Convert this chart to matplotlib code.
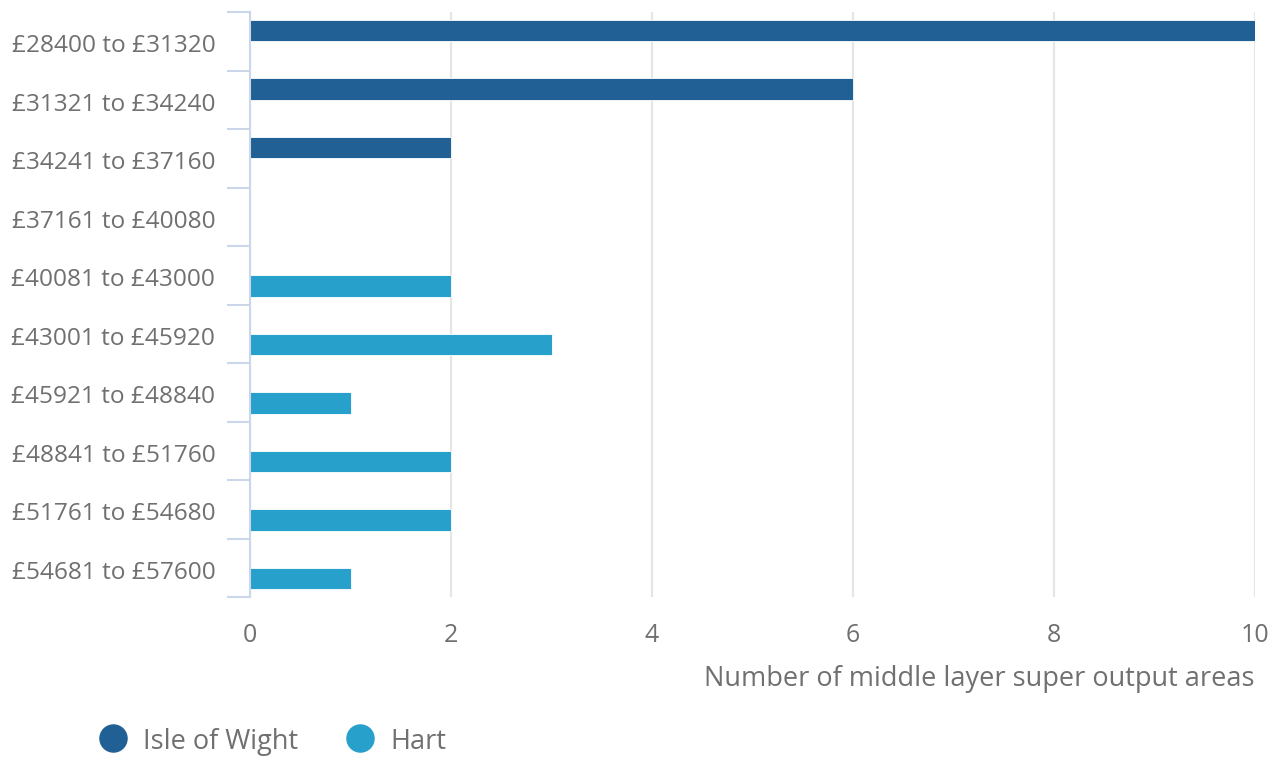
import numpy as np
import matplotlib
matplotlib.use("Agg")
import matplotlib.pyplot as plt
import matplotlib.transforms as mtransforms
from matplotlib.lines import Line2D

# data
bands = ["£28400 to £31320", "£31321 to £34240", "£34241 to £37160",
         "£37161 to £40080", "£40081 to £43000", "£43001 to £45920",
         "£45921 to £48840", "£48841 to £51760", "£51761 to £54680",
         "£54681 to £57600"]
isle_of_wight = [10, 6, 2, 0, 0, 0, 0, 0, 0, 0]
hart = [0, 0, 0, 0, 2, 3, 1, 2, 2, 1]
series_names = ["Isle of Wight", "Hart"]
x_ticks = [0, 2, 4, 6, 8, 10]

dark_blue = "#206095"
light_blue = "#27a0cc"
text_col = "#707070"
axis_col = "#ccd6eb"
grid_col = "#e6e6e6"

plt.rcParams['font.family'] = ['Open Sans', 'DejaVu Sans']

fig = plt.figure(figsize=(12.79, 7.58), dpi=100)
ax = fig.add_axes([250 / 1279, 1 - 597 / 758, 1005 / 1279, 585 / 758])

y = np.arange(len(bands))
h = 0.37
ax.barh(y - h / 2, isle_of_wight, height=h, color=dark_blue,
        edgecolor="white", linewidth=0.6, zorder=3)
ax.barh(y + h / 2, hart, height=h, color=light_blue,
        edgecolor="white", linewidth=0.6, zorder=3)

ax.set_xlim(0, 10)
ax.set_ylim(len(bands) - 0.5, -0.5)

ax.set_xticks(x_ticks)
ax.set_xticklabels([str(t) for t in x_ticks])
ax.xaxis.grid(True, color=grid_col, linewidth=1.6, zorder=0)
ax.tick_params(axis="x", length=0, pad=19, labelsize=18, labelcolor=text_col)

ax.set_yticks(y)
ax.set_yticklabels(bands)
ax.tick_params(axis="y", which="major", length=0, pad=25, labelsize=17.6,
               labelcolor=text_col)
ax.set_yticks(np.arange(len(bands) + 1) - 0.5, minor=True)
ax.tick_params(axis="y", which="minor", length=16.5, width=1.5, color=axis_col)

# nudge the band labels down a touch
shift = mtransforms.ScaledTranslation(0, -2 / 100, fig.dpi_scale_trans)
for lbl in ax.get_yticklabels():
    lbl.set_transform(lbl.get_transform() + shift)

for s in ["top", "right", "bottom"]:
    ax.spines[s].set_visible(False)
ax.spines["left"].set_color(axis_col)
ax.spines["left"].set_linewidth(1.5)
ax.spines["left"].set_zorder(4)

fig.text(1255 / 1279, 1 - 679 / 758, "Number of middle layer super output areas",
         ha="right", va="center", fontsize=19.5, color=text_col)

# legend: circle markers with labels, placed like the reference
legend_x = [113, 360]
for name, col, lx in zip(series_names, [dark_blue, light_blue], legend_x):
    fig.add_artist(Line2D([lx / 1279], [1 - 738 / 758], marker="o", linestyle="",
                          markersize=19.5, color=col, transform=fig.transFigure))
    fig.text((lx + 30) / 1279, 1 - 742 / 758, name, ha="left", va="center",
             fontsize=19.5, color=text_col)

fig.savefig("out.png", dpi=100)
